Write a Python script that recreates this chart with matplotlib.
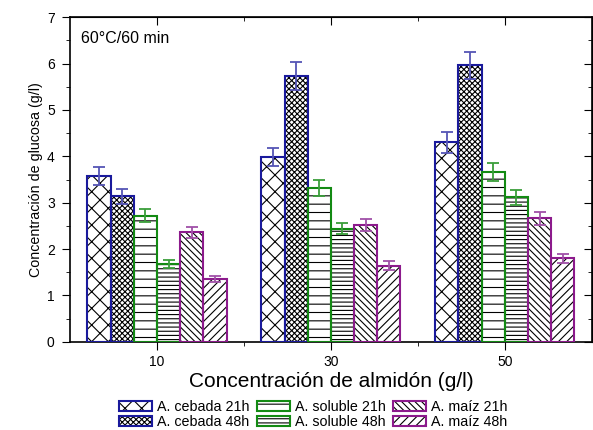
import numpy as np
import matplotlib.pyplot as plt
from matplotlib.patches import Patch
from matplotlib.legend_handler import HandlerTuple

plt.rcParams['font.family'] = ['Liberation Sans', 'DejaVu Sans']
plt.rcParams['hatch.linewidth'] = 0.8

# datos
conc = [10, 30, 50]
series = ["A. cebada 21h", "A. cebada 48h", "A. soluble 21h",
          "A. soluble 48h", "A. maíz 21h", "A. maíz 48h"]
cebada_21 = [3.58, 3.99, 4.30]
cebada_48 = [3.14, 5.73, 5.96]
soluble_21 = [2.72, 3.31, 3.66]
soluble_48 = [1.68, 2.44, 3.12]
maiz_21 = [2.36, 2.51, 2.67]
maiz_48 = [1.35, 1.64, 1.80]
err_cebada_21 = [0.19, 0.20, 0.22]
err_cebada_48 = [0.16, 0.30, 0.30]
err_soluble_21 = [0.14, 0.17, 0.19]
err_soluble_48 = [0.09, 0.12, 0.16]
err_maiz_21 = [0.12, 0.13, 0.14]
err_maiz_48 = [0.06, 0.10, 0.09]

values = [cebada_21, cebada_48, soluble_21, soluble_48, maiz_21, maiz_48]
errors = [err_cebada_21, err_cebada_48, err_soluble_21,
          err_soluble_48, err_maiz_21, err_maiz_48]
edge_cols = ["#1a1a9c", "#1a1a9c", "#138a13", "#138a13", "#8c1a8c", "#8c1a8c"]
err_cols = ["#5555b5", "#5555b5", "#3a9e3a", "#3a9e3a", "#a050a8", "#a050a8"]
hatches = ["xx", "xxxxxx", "--", "----", "\\\\\\\\\\", "////"]

fig = plt.figure(figsize=(5.93, 4.30), dpi=100)
ax = fig.add_axes([0.118, 0.205, 0.88, 0.755])

width = 16 / 6
x = np.array(conc, dtype=float)
handles = []
for i in range(6):
    pos = x + (i - 2.5) * width
    ax.bar(pos, values[i], width, color="white", edgecolor="black",
           hatch=hatches[i], linewidth=0, zorder=2)
    ax.bar(pos, values[i], width, fill=False, edgecolor=edge_cols[i],
           linewidth=1.5, zorder=3)
    ax.errorbar(pos, values[i], yerr=errors[i], fmt="none", ecolor=err_cols[i],
                elinewidth=1.3, capsize=4, capthick=1.3, zorder=4)
    h1 = Patch(facecolor="white", edgecolor="black", hatch=hatches[i], linewidth=0)
    h2 = Patch(fill=False, edgecolor=edge_cols[i], linewidth=1.5)
    handles.append((h1, h2))

ax.set_xlim(0, 60)
ax.set_ylim(0, 7)
ax.set_xticks(conc)
ax.set_xticks([20, 40], minor=True)
ax.set_yticks(range(8))
ax.set_yticks(np.arange(0.5, 7, 1), minor=True)
ax.tick_params(which="major", direction="out", length=6, labelsize=10)
ax.tick_params(axis="y", which="major", pad=5)
ax.tick_params(which="minor", direction="out", length=3)

# ejes superior y derecho con ticks hacia dentro
top = ax.secondary_xaxis("top")
top.set_xticks(conc)
top.set_xticks([20, 40], minor=True)
top.tick_params(which="major", direction="in", length=6, labeltop=False)
top.tick_params(which="minor", direction="in", length=3)
right = ax.secondary_yaxis("right")
right.set_yticks(range(8))
right.set_yticks(np.arange(0.5, 7, 1), minor=True)
right.tick_params(which="major", direction="in", length=6, labelright=False)
right.tick_params(which="minor", direction="in", length=3)

for s in ax.spines.values():
    s.set_linewidth(1.2)

ax.set_xlabel("Concentración de almidón (g/l)", fontsize=15, labelpad=2)
ax.set_ylabel("Concentración de glucosa (g/l)", fontsize=10.3, labelpad=3)
ax.text(0.021, 0.935, "60°C/60 min", transform=ax.transAxes, fontsize=11.5,
        va="center")

fig.legend(handles, series, handler_map={tuple: HandlerTuple(ndivide=1)},
           loc="center left", bbox_to_anchor=(112 / 593, 0.036), ncol=3,
           frameon=False, borderpad=0, fontsize=10.3, handlelength=2.3,
           handleheight=0.7, columnspacing=0.5, handletextpad=0.35,
           labelspacing=0.02)

fig.savefig("out.png", dpi=100)
